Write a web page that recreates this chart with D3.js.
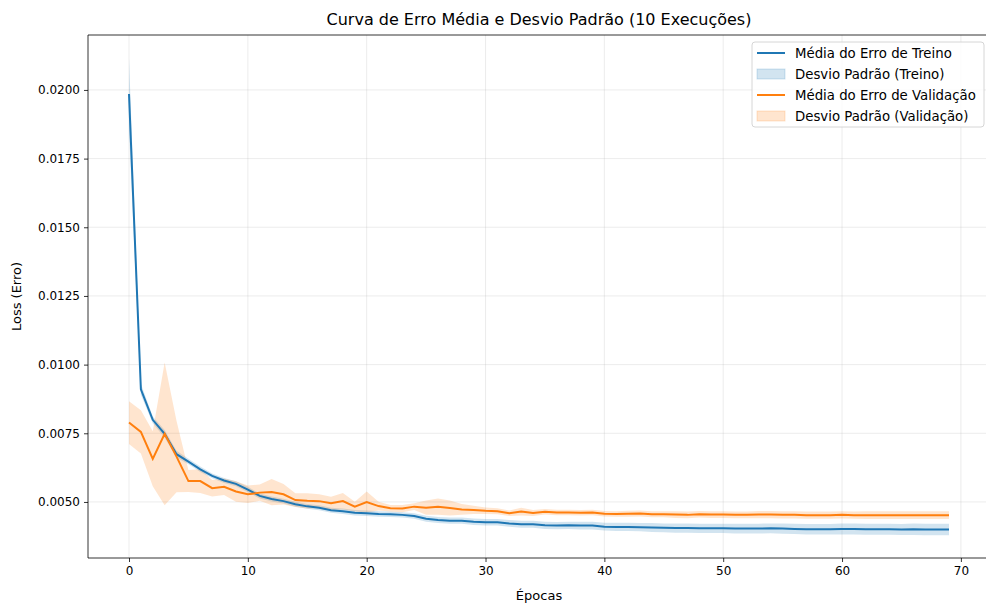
<!DOCTYPE html>
<html>
<head>
<meta charset="utf-8">
<script src="https://cdn.jsdelivr.net/npm/d3@7"></script>
<style>
  body { margin: 0; background: #fff; }
  svg { font-family: "DejaVu Sans", sans-serif; display: block; }
</style>
</head>
<body>
<div id="chart"></div>
<script>
// Mean and std of the loss over 10 runs, one value per epoch (0..69)
const trainMean = [
  0.01985, 0.00910, 0.00799, 0.00748, 0.00674, 0.00647, 0.00619, 0.00595, 0.00578, 0.00566,
  0.00545, 0.00522, 0.00511, 0.00503, 0.00492, 0.00484, 0.00479, 0.00470, 0.00466, 0.00461,
  0.00459, 0.00456, 0.00455, 0.00453, 0.00449, 0.00439, 0.00434, 0.00432, 0.00432, 0.00428,
  0.00426, 0.00426, 0.00422, 0.00419, 0.00419, 0.00415, 0.00414, 0.00415, 0.00414, 0.00414,
  0.00410, 0.00409, 0.00409, 0.00408, 0.00407, 0.00406, 0.00405, 0.00405, 0.00404, 0.00404,
  0.00404, 0.00403, 0.00403, 0.00403, 0.00404, 0.00403, 0.00402, 0.00401, 0.00401, 0.00401,
  0.00402, 0.00402, 0.00401, 0.00401, 0.00401, 0.00400, 0.00401, 0.00400, 0.00400, 0.00400
];
const trainStd = [
  0.00130, 0.00020, 0.00012, 0.00014, 0.00012, 0.00010, 0.00010, 0.00009, 0.00009, 0.00009,
  0.00010, 0.00009, 0.00009, 0.00009, 0.00009, 0.00009, 0.00009, 0.00009, 0.00010, 0.00010,
  0.00010, 0.00010, 0.00010, 0.00010, 0.00010, 0.00011, 0.00011, 0.00011, 0.00011, 0.00012,
  0.00012, 0.00012, 0.00012, 0.00013, 0.00013, 0.00013, 0.00013, 0.00013, 0.00014, 0.00014,
  0.00014, 0.00015, 0.00015, 0.00015, 0.00016, 0.00016, 0.00017, 0.00017, 0.00017, 0.00017,
  0.00017, 0.00018, 0.00018, 0.00018, 0.00018, 0.00019, 0.00019, 0.00019, 0.00019, 0.00019,
  0.00020, 0.00020, 0.00020, 0.00020, 0.00020, 0.00020, 0.00021, 0.00021, 0.00021, 0.00021
];
const valMean = [
  0.00789, 0.00755, 0.00657, 0.00748, 0.00665, 0.00576, 0.00576, 0.00550, 0.00555, 0.00538,
  0.00528, 0.00534, 0.00536, 0.00528, 0.00507, 0.00504, 0.00503, 0.00495, 0.00503, 0.00483,
  0.00500, 0.00485, 0.00477, 0.00476, 0.00483, 0.00479, 0.00483, 0.00478, 0.00473, 0.00471,
  0.00468, 0.00466, 0.00459, 0.00465, 0.00460, 0.00464, 0.00462, 0.00462, 0.00461, 0.00462,
  0.00457, 0.00456, 0.00457, 0.00458, 0.00455, 0.00455, 0.00454, 0.00453, 0.00455, 0.00454,
  0.00454, 0.00453, 0.00453, 0.00454, 0.00454, 0.00453, 0.00453, 0.00452, 0.00452, 0.00452,
  0.00453, 0.00452, 0.00452, 0.00452, 0.00452, 0.00452, 0.00452, 0.00452, 0.00452, 0.00452
];
const valStd = [
  0.00078, 0.00079, 0.00100, 0.00260, 0.00130, 0.00040, 0.00043, 0.00030, 0.00030, 0.00037,
  0.00032, 0.00030, 0.00048, 0.00037, 0.00025, 0.00028, 0.00025, 0.00024, 0.00030, 0.00018,
  0.00038, 0.00016, 0.00012, 0.00013, 0.00012, 0.00026, 0.00030, 0.00027, 0.00020, 0.00015,
  0.00012, 0.00011, 0.00010, 0.00014, 0.00011, 0.00010, 0.00010, 0.00010, 0.00010, 0.00010,
  0.00010, 0.00010, 0.00011, 0.00011, 0.00011, 0.00011, 0.00012, 0.00012, 0.00012, 0.00012,
  0.00012, 0.00012, 0.00012, 0.00013, 0.00013, 0.00013, 0.00013, 0.00013, 0.00013, 0.00013,
  0.00013, 0.00013, 0.00014, 0.00014, 0.00014, 0.00014, 0.00014, 0.00014, 0.00014, 0.00014
];
const xTicks = [0, 10, 20, 30, 40, 50, 60, 70];
const yTicks = [0.0050, 0.0075, 0.0100, 0.0125, 0.0150, 0.0175, 0.0200];
const legendLabels = [
  "Média do Erro de Treino",
  "Desvio Padrão (Treino)",
  "Média do Erro de Validação",
  "Desvio Padrão (Validação)"
];

const W = 986, H = 604;
const margin = { top: 35, right: -4, bottom: 46, left: 88 };
const width = W - margin.left - margin.right;
const height = H - margin.top - margin.bottom;

const blue = "#1f77b4", orange = "#ff7f0e";

const svg = d3.select("#chart").append("svg")
    .attr("width", W)
    .attr("height", H);

const g = svg.append("g")
    .attr("transform", `translate(${margin.left},${margin.top})`);

const epochs = d3.range(trainMean.length);

// matplotlib-style 5% margins on x
const xPad = (epochs.length - 1) * 0.05;
const x = d3.scaleLinear()
    .domain([-xPad, epochs.length - 1 + xPad])
    .range([0, width]);

const y = d3.scaleLinear()
    .domain([0.00296, 0.02200])
    .range([height, 0]);

// grid
g.append("g").selectAll("line").data(xTicks).join("line")
    .attr("x1", d => x(d)).attr("x2", d => x(d))
    .attr("y1", 0).attr("y2", height)
    .attr("stroke", "#b0b0b0").attr("stroke-opacity", 0.3).attr("stroke-width", 0.8);
g.append("g").selectAll("line").data(yTicks).join("line")
    .attr("x1", 0).attr("x2", width)
    .attr("y1", d => y(d)).attr("y2", d => y(d))
    .attr("stroke", "#b0b0b0").attr("stroke-opacity", 0.3).attr("stroke-width", 0.8);

// bands
const band = (mean, std) => d3.area()
    .x(i => x(i))
    .y0(i => y(mean[i] - std[i]))
    .y1(i => y(mean[i] + std[i]))(epochs);

g.append("path").attr("d", band(trainMean, trainStd))
    .attr("fill", blue).attr("fill-opacity", 0.2);
g.append("path").attr("d", band(valMean, valStd))
    .attr("fill", orange).attr("fill-opacity", 0.2);

// mean lines
const line = arr => d3.line().x(i => x(i)).y(i => y(arr[i]))(epochs);

g.append("path").attr("d", line(trainMean))
    .attr("fill", "none").attr("stroke", blue).attr("stroke-width", 2);
g.append("path").attr("d", line(valMean))
    .attr("fill", "none").attr("stroke", orange).attr("stroke-width", 2);

// axes
const xAxis = g.append("g")
    .attr("transform", `translate(0,${height})`)
    .call(d3.axisBottom(x).tickValues(xTicks).tickSize(4).tickPadding(4).tickFormat(d3.format("d")));
const yAxis = g.append("g")
    .call(d3.axisLeft(y).tickValues(yTicks).tickSize(4).tickPadding(4).tickFormat(d3.format(".4f")));

[xAxis, yAxis].forEach(a => {
    a.select(".domain").remove();
    a.selectAll("text").attr("font-size", 12).attr("fill", "#000").attr("font-family", "DejaVu Sans");
    a.selectAll("line").attr("stroke", "#000").attr("stroke-width", 0.8);
});

// spines
g.append("line").attr("x1", 0).attr("x2", 0).attr("y1", 0).attr("y2", height)
    .attr("stroke", "#000").attr("stroke-width", 0.8);
g.append("line").attr("x1", 0).attr("x2", width).attr("y1", height).attr("y2", height)
    .attr("stroke", "#000").attr("stroke-width", 0.8);
g.append("line").attr("x1", 0).attr("x2", width).attr("y1", 0).attr("y2", 0)
    .attr("stroke", "#000").attr("stroke-width", 0.8);

// title and axis labels
svg.append("text")
    .attr("x", margin.left + x(34.5)).attr("y", 25)
    .attr("text-anchor", "middle").attr("font-size", 16)
    .text("Curva de Erro Média e Desvio Padrão (10 Execuções)");

svg.append("text")
    .attr("x", margin.left + x(34.5)).attr("y", 600)
    .attr("text-anchor", "middle").attr("font-size", 13)
    .text("Épocas");

svg.append("text")
    .attr("transform", `translate(21,${margin.top + height / 2}) rotate(-90)`)
    .attr("text-anchor", "middle").attr("font-size", 13)
    .text("Loss (Erro)");

// legend
const leg = svg.append("g").attr("transform", "translate(752,42)");
leg.append("rect")
    .attr("width", 232).attr("height", 85).attr("rx", 3)
    .attr("fill", "#fff").attr("fill-opacity", 0.8)
    .attr("stroke", "#cccccc").attr("stroke-width", 0.8);

const legColors = [blue, blue, orange, orange];
legendLabels.forEach((label, i) => {
    const ly = 11 + i * 21;
    if (i % 2 === 0) {
        leg.append("line").attr("x1", 5).attr("x2", 33).attr("y1", ly).attr("y2", ly)
            .attr("stroke", legColors[i]).attr("stroke-width", 2);
    } else {
        leg.append("rect").attr("x", 5).attr("y", ly - 5).attr("width", 28).attr("height", 10)
            .attr("fill", legColors[i]).attr("fill-opacity", 0.2)
            .attr("stroke", legColors[i]).attr("stroke-opacity", 0.2);
    }
    leg.append("text").attr("x", 43).attr("y", ly + 5)
        .attr("font-size", 13.3).text(label);
});
</script>
</body>
</html>
